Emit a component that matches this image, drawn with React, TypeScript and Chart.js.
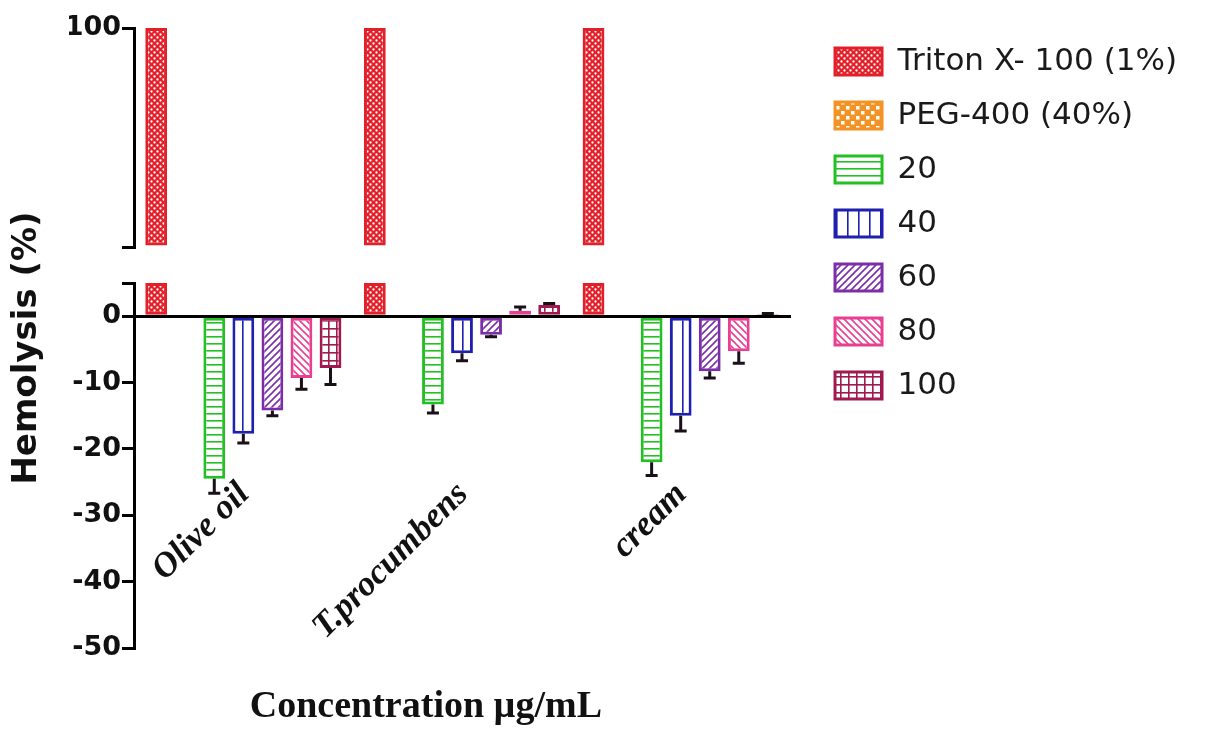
import React, { useEffect, useRef } from 'react';
import { Chart, registerables } from 'chart.js';

Chart.register(...registerables);

// ---------- data ----------
const categories = ['Olive oil', 'T.procumbens', 'cream'];
const seriesLabels = ['Triton X- 100 (1%)', 'PEG-400 (40%)', '20', '40', '60', '80', '100'];

const tritonValues = [100, 100, 100];
const pegValues = [0, 0, 0];
const conc20 = [-24.5, -13.3, -22.0];
const conc20Err = [2.2, 1.3, 2.0];
const conc40 = [-17.7, -5.6, -15.0];
const conc40Err = [1.4, 1.1, 2.3];
const conc60 = [-14.2, -2.8, -8.3];
const conc60Err = [0.8, 0.3, 1.0];
const conc80 = [-9.3, 0.8, -5.3];
const conc80Err = [1.7, 0.6, 1.8];
const conc100 = [-7.8, 1.7, 0.3];
const conc100Err = [2.5, 0.2, 0.1];

const yLowTicks = [-50, -40, -30, -20, -10, 0, 5];
const yLowTickLabels = ['-50', '-40', '-30', '-20', '-10', '0', ''];
const yTopTicks = [90, 100];
const yTopTickLabels = ['', '100'];

const xTitle = 'Concentration µg/mL';
const yTitle = 'Hemolysis (%)';

// ---------- helpers ----------
function makePattern(kind: string, color: string): any {
  const c = document.createElement('canvas');
  const g = c.getContext('2d');
  if (!g) return color;
  const base = (w: number, h: number, bg: string) => {
    c.width = w;
    c.height = h;
    g.fillStyle = bg;
    g.fillRect(0, 0, w, h);
  };
  const line = (x1: number, y1: number, x2: number, y2: number) => {
    g.beginPath();
    g.moveTo(x1, y1);
    g.lineTo(x2, y2);
    g.stroke();
  };
  if (kind === 'dots') {
    base(6, 6, color);
    g.fillStyle = '#ffffff';
    [[1.5, 1.5], [4.5, 4.5]].forEach(([x, y]) => {
      g.beginPath();
      g.arc(x, y, 1.15, 0, Math.PI * 2);
      g.fill();
    });
  } else if (kind === 'checker') {
    base(10, 10, color);
    g.fillStyle = '#ffffff';
    g.fillRect(1, 1, 3.5, 3.5);
    g.fillRect(6, 6, 3.5, 3.5);
  } else if (kind === 'hlines') {
    base(8, 7, '#ffffff');
    g.fillStyle = color;
    g.fillRect(0, 0, 8, 1.6);
  } else if (kind === 'vlines') {
    base(11, 8, '#ffffff');
    g.fillStyle = color;
    g.fillRect(0, 0, 1.6, 8);
  } else if (kind === 'diagUp') {
    base(7, 7, '#ffffff');
    g.strokeStyle = color;
    g.lineWidth = 1.6;
    line(0, 7, 7, 0);
    line(-1, 1, 1, -1);
    line(6, 8, 8, 6);
  } else if (kind === 'diagDown') {
    base(7, 7, '#ffffff');
    g.strokeStyle = color;
    g.lineWidth = 1.6;
    line(0, 0, 7, 7);
    line(6, -1, 8, 1);
    line(-1, 6, 1, 8);
  } else if (kind === 'grid') {
    base(8, 8, '#ffffff');
    g.fillStyle = color;
    g.fillRect(0, 0, 8, 1.6);
    g.fillRect(0, 0, 1.6, 8);
  }
  return g.createPattern(c, 'repeat') || color;
}

const errorBarPlugin = {
  id: 'errorBars',
  afterDatasetsDraw(chart: any) {
    const ctx = chart.ctx;
    chart.data.datasets.forEach((ds: any, i: number) => {
      if (!ds.errors) return;
      const meta = chart.getDatasetMeta(i);
      if (meta.hidden) return;
      const yScale = chart.scales[ds.yAxisID];
      ctx.save();
      ctx.strokeStyle = '#1a1018';
      ctx.lineWidth = 3;
      meta.data.forEach((bar: any, j: number) => {
        const v = ds.data[j];
        const e = ds.errors[j];
        if (v == null || !e) return;
        const end = v < 0 ? v - e : v + e;
        const y0 = yScale.getPixelForValue(v);
        const y1 = yScale.getPixelForValue(end);
        ctx.beginPath();
        ctx.moveTo(bar.x, y0);
        ctx.lineTo(bar.x, y1);
        ctx.moveTo(bar.x - 6, y1);
        ctx.lineTo(bar.x + 6, y1);
        ctx.stroke();
      });
      ctx.restore();
    });
  },
};

const hiddenAxisParts = {
  grid: { display: false, drawTicks: false },
  border: { display: false },
  ticks: { display: false },
};

export default function App() {
  const ref = useRef<HTMLCanvasElement>(null);

  useEffect(() => {
    const canvas = ref.current;
    if (!canvas) return;

    const common = {
      xAxisID: 'x',
      borderWidth: 3,
      borderSkipped: false,
      barPercentage: 0.75,
      categoryPercentage: 0.93,
    };

    const lowMax = yLowTicks[yLowTicks.length - 1];

    const datasets: any[] = [
      {
        ...common,
        label: seriesLabels[0],
        data: tritonValues.map((v) => Math.min(v, lowMax)),
        yAxisID: 'y',
        stack: 'triton',
        backgroundColor: makePattern('dots', '#e3202a'),
        borderColor: '#e3202a',
      },
      {
        ...common,
        label: seriesLabels[0],
        data: tritonValues,
        yAxisID: 'yTop',
        stack: 'triton',
        base: yTopTicks[0],
        hideLegend: true,
        backgroundColor: makePattern('dots', '#e3202a'),
        borderColor: '#e3202a',
      },
      {
        ...common,
        label: seriesLabels[1],
        data: pegValues,
        yAxisID: 'y',
        stack: 'peg',
        backgroundColor: makePattern('checker', '#f39325'),
        borderColor: '#f39325',
      },
      {
        ...common,
        label: seriesLabels[2],
        data: conc20,
        errors: conc20Err,
        yAxisID: 'y',
        stack: 's20',
        backgroundColor: makePattern('hlines', '#22c022'),
        borderColor: '#22c022',
      },
      {
        ...common,
        label: seriesLabels[3],
        data: conc40,
        errors: conc40Err,
        yAxisID: 'y',
        stack: 's40',
        backgroundColor: makePattern('vlines', '#1f1fb0'),
        borderColor: '#1f1fb0',
      },
      {
        ...common,
        label: seriesLabels[4],
        data: conc60,
        errors: conc60Err,
        yAxisID: 'y',
        stack: 's60',
        backgroundColor: makePattern('diagUp', '#7a2ea8'),
        borderColor: '#7a2ea8',
      },
      {
        ...common,
        label: seriesLabels[5],
        data: conc80,
        errors: conc80Err,
        yAxisID: 'y',
        stack: 's80',
        backgroundColor: makePattern('diagDown', '#e83f92'),
        borderColor: '#e83f92',
      },
      {
        ...common,
        label: seriesLabels[6],
        data: conc100,
        errors: conc100Err,
        yAxisID: 'y',
        stack: 's100',
        backgroundColor: makePattern('grid', '#a01a50'),
        borderColor: '#a01a50',
      },
    ];

    const tickFont = { family: 'DejaVu Sans', size: 27, weight: 'bold' as const };
    const axisGrid = {
      display: true,
      drawOnChartArea: false,
      drawTicks: true,
      tickLength: 12,
      color: '#000',
      lineWidth: 3,
    };

    const chart = new Chart(canvas, {
      type: 'bar',
      data: { labels: categories, datasets },
      plugins: [errorBarPlugin],
      options: {
        animation: false,
        responsive: true,
        maintainAspectRatio: false,
        events: [],
        layout: { padding: { top: 23, right: 20, bottom: 0, left: 0 } },
        plugins: {
          tooltip: { enabled: false },
          legend: {
            position: 'right',
            align: 'start',
            maxWidth: 440,
            labels: {
              boxWidth: 47,
              boxHeight: 27,
              padding: 23,
              color: '#1a1a1a',
              font: { family: 'DejaVu Sans', size: 31 },
              filter: (item: any, data: any) => !data.datasets[item.datasetIndex].hideLegend,
            },
          },
        },
        scales: {
          x: {
            type: 'category',
            axis: 'x',
            position: { y: 0 },
            offset: true,
            grid: { display: false, drawTicks: false },
            border: { display: true, color: '#000', width: 3, z: 1 },
            ticks: {
              autoSkip: false,
              minRotation: 45,
              maxRotation: 45,
              padding: 158,
              labelOffset: 1,
              color: '#111',
              font: { family: 'Liberation Serif', size: 35, style: 'italic', weight: 'bold' },
            },
            afterFit: (s: any) => {
              s.height = 0;
              s.paddingLeft = 0;
              s.paddingRight = 0;
            },
          },
          xt: {
            type: 'category',
            axis: 'x',
            position: 'bottom',
            stack: 'xstack',
            stackWeight: 582,
            ...hiddenAxisParts,
            title: {
              display: true,
              text: xTitle,
              color: '#111',
              font: { family: 'Liberation Serif', size: 38, weight: 'bold', lineHeight: 1 },
              padding: { top: 0, bottom: 3 },
            },
            afterFit: (s: any) => {
              s.height = 81;
            },
          },
          xtSpacer: {
            type: 'linear',
            axis: 'x',
            position: 'bottom',
            stack: 'xstack',
            stackWeight: 72,
            ...hiddenAxisParts,
            afterFit: (s: any) => {
              s.height = 81;
            },
          },
          y: {
            type: 'linear',
            axis: 'y',
            position: 'left',
            stack: 'ystack',
            stackWeight: 365,
            min: yLowTicks[0],
            max: lowMax,
            afterBuildTicks: (s: any) => {
              s.ticks = yLowTicks.map((v) => ({ value: v }));
            },
            grid: axisGrid,
            border: { display: true, color: '#000', width: 3 },
            ticks: {
              autoSkip: false,
              padding: 1,
              color: '#111',
              font: tickFont,
              callback: (_v: any, i: number) => yLowTickLabels[i],
            },
            afterFit: (s: any) => {
              s.width = 65;
            },
          },
          yGap: {
            type: 'linear',
            axis: 'y',
            position: 'left',
            stack: 'ystack',
            stackWeight: 36,
            min: 0,
            max: 1,
            ...hiddenAxisParts,
            afterFit: (s: any) => {
              s.width = 65;
            },
          },
          yTop: {
            type: 'linear',
            axis: 'y',
            position: 'left',
            stack: 'ystack',
            stackWeight: 219,
            min: yTopTicks[0],
            max: yTopTicks[yTopTicks.length - 1],
            afterBuildTicks: (s: any) => {
              s.ticks = yTopTicks.map((v) => ({ value: v }));
            },
            grid: axisGrid,
            border: { display: true, color: '#000', width: 3 },
            ticks: {
              autoSkip: false,
              padding: 1,
              color: '#111',
              font: tickFont,
              callback: (_v: any, i: number) => yTopTickLabels[i],
            },
            afterFit: (s: any) => {
              s.width = 65;
              s.paddingTop = 28;
            },
          },
          yTitle: {
            type: 'linear',
            axis: 'y',
            position: 'left',
            stack: 'tstack',
            stackWeight: 600,
            weight: 10,
            min: 0,
            max: 1,
            ...hiddenAxisParts,
            title: {
              display: true,
              text: yTitle,
              color: '#111',
              font: { family: 'DejaVu Sans', size: 34, weight: 'bold' },
              padding: { top: 7, bottom: 0 },
            },
            afterFit: (s: any) => {
              s.width = 69;
            },
          },
          yTitleSpacer: {
            type: 'linear',
            axis: 'y',
            position: 'left',
            stack: 'tstack',
            stackWeight: 20,
            weight: 10,
            min: 0,
            max: 1,
            ...hiddenAxisParts,
            afterFit: (s: any) => {
              s.width = 69;
            },
          },
          yR: {
            type: 'linear',
            axis: 'y',
            position: 'right',
            min: 0,
            max: 1,
            ...hiddenAxisParts,
            afterFit: (s: any) => {
              s.width = 22;
            },
          },
        },
      } as any,
    });

    return () => chart.destroy();
  }, []);

  return (
    <div style={{ position: 'fixed', left: 0, top: 0, width: 1207, height: 729, background: '#ffffff' }}>
      <canvas ref={ref} />
    </div>
  );
}
